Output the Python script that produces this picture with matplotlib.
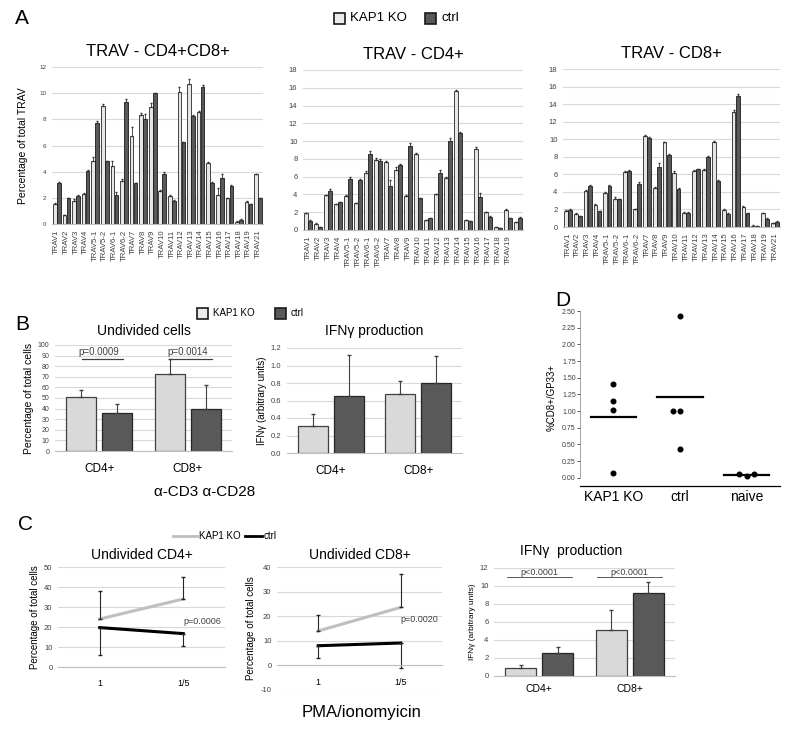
import numpy as np
import matplotlib
matplotlib.use("Agg")
import matplotlib.pyplot as plt
from matplotlib.patches import Rectangle
from matplotlib.lines import Line2D

plt.rcParams['font.family'] = ['Liberation Sans', 'DejaVu Sans']

W, H = 800, 732
KO_C = "#d9d9d9"
CT_C = "#595959"
GRID = "#d9d9d9"

# ---- panel A data ----
trav_a = ["TRAV1", "TRAV2", "TRAV3", "TRAV4", "TRAV5-1", "TRAV5-2", "TRAV6-1", "TRAV6-2",
          "TRAV7", "TRAV8", "TRAV9", "TRAV10", "TRAV11", "TRAV12", "TRAV13", "TRAV14",
          "TRAV15", "TRAV16", "TRAV17", "TRAV18", "TRAV19", "TRAV21"]
trav_cd4 = trav_a[:21] + [""]

dp_ko = [1.5, 0.65, 1.75, 2.3, 4.85, 9.05, 4.45, 3.3, 6.75, 8.3, 8.95, 2.5, 2.15, 10.1, 10.7, 8.55, 4.7, 2.25, 1.95, 0.15, 1.7, 3.8]
dp_ko_err = [0.1, 0.05, 0.15, 0.05, 0.3, 0.15, 0.4, 0.15, 0.65, 0.15, 0.3, 0.1, 0.1, 0.35, 0.4, 0.1, 0.05, 0.5, 0.05, 0.05, 0.05, 0.05]
dp_ct = [3.15, 1.95, 2.15, 4.05, 7.75, 4.8, 2.25, 9.3, 3.1, 8.05, 10.0, 3.85, 1.75, 6.25, 8.25, 10.45, 3.15, 3.55, 2.9, 0.3, 1.5, 1.95]
dp_ct_err = [0.05, 0.05, 0.05, 0.05, 0.15, 0.05, 0.2, 0.25, 0.05, 0.35, 0.05, 0.1, 0.05, 0.05, 0.1, 0.2, 0.05, 0.3, 0.05, 0.05, 0.05, 0.05]

cd4_ko = [1.9, 0.7, 3.9, 2.9, 3.8, 3.0, 6.4, 7.9, 7.7, 6.8, 3.8, 8.6, 1.1, 4.0, 5.9, 15.6, 1.1, 9.1, 2.0, 0.3, 2.3, 0.9]
cd4_ko_err = [0.05, 0.05, 0.05, 0.05, 0.1, 0.05, 0.2, 0.2, 0.05, 0.3, 0.1, 0.1, 0.05, 0.05, 0.05, 0.2, 0.05, 0.25, 0.05, 0.05, 0.05, 0.05]
cd4_ct = [1.0, 0.3, 4.4, 3.1, 5.7, 5.6, 8.5, 7.8, 5.0, 7.3, 9.5, 3.6, 1.3, 6.4, 10.0, 10.9, 1.0, 3.7, 1.5, 0.2, 1.3, 1.4]
cd4_ct_err = [0.1, 0.05, 0.2, 0.05, 0.3, 0.1, 0.4, 0.15, 0.6, 0.15, 0.25, 0.05, 0.05, 0.3, 0.4, 0.1, 0.05, 0.45, 0.05, 0.05, 0.05, 0.05]

cd8_ko = [1.85, 1.5, 4.15, 2.55, 3.85, 3.2, 6.25, 2.05, 10.4, 4.5, 9.65, 6.15, 1.65, 6.4, 6.55, 9.7, 1.95, 13.1, 2.3, 0.15, 1.6, 0.45]
cd8_ko_err = [0.05, 0.05, 0.05, 0.05, 0.1, 0.25, 0.1, 0.05, 0.05, 0.05, 0.05, 0.25, 0.05, 0.05, 0.1, 0.05, 0.05, 0.2, 0.05, 0.05, 0.05, 0.05]
cd8_ct = [1.95, 1.25, 4.7, 1.8, 4.7, 3.15, 6.4, 4.85, 10.15, 6.85, 8.25, 4.35, 1.65, 6.6, 8.0, 5.2, 1.5, 14.9, 1.6, 0.1, 0.95, 0.6]
cd8_ct_err = [0.05, 0.05, 0.05, 0.05, 0.1, 0.05, 0.1, 0.25, 0.05, 0.4, 0.05, 0.05, 0.05, 0.05, 0.05, 0.2, 0.05, 0.3, 0.05, 0.05, 0.05, 0.1]

# ---- panel B data ----
groups = ["CD4+", "CD8+"]
undiv_ko = [50.5, 73.0]
undiv_ko_err = [7.0, 14.0]
undiv_ct = [35.5, 40.0]
undiv_ct_err = [9.0, 22.0]
undiv_p = ["p=0.0009", "p=0.0014"]
ifn_b_ko = [0.31, 0.67]
ifn_b_ko_err = [0.14, 0.15]
ifn_b_ct = [0.65, 0.80]
ifn_b_ct_err = [0.47, 0.31]

# ---- panel C data ----
doses = ["1", "1/5"]
c4_ko = [24.0, 34.0]
c4_ko_err = [14.0, 11.0]
c4_ct = [19.7, 16.7]
c4_ct_err = [13.7, 6.0]
c8_ko = [14.0, 23.6]
c8_ko_err = [6.3, 13.6]
c8_ct = [8.0, 9.1]
c8_ct_err = [4.8, 10.0]
ifn_c_ko = [0.93, 5.15]
ifn_c_ko_err = [0.34, 2.15]
ifn_c_ct = [2.6, 9.27]
ifn_c_ct_err = [0.6, 1.2]
ifn_c_p = ["p<0.0001", "p<0.0001"]

# ---- panel D data ----
d_groups = ["KAP1 KO", "ctrl", "naive"]
d_ko = [1.40, 1.15, 1.01, 0.07]
d_ct = [2.43, 1.00, 1.00, 0.43]
d_nv = [0.05, 0.03, 0.05]
d_mean = [0.91, 1.21, 0.04]
# horizontal spread of overlapping dots
d_ko_dx = [0, 0, 0, 0]
d_ct_dx = [0, -0.11, 0, 0]
d_nv_dx = [-0.11, 0, 0.11]


fig = plt.figure(figsize=(8.0, 7.32), dpi=100)


def ax_px(l, t, r, b):
    return fig.add_axes([l / W, 1 - b / H, (r - l) / W, (b - t) / H])


def style(ax, ymin, ymax, step, fs=5.5, fmt="{:g}"):
    ax.set_ylim(ymin, ymax)
    ax.set_yticks(np.arange(ymin, ymax + step / 2, step))
    ax.set_yticklabels([fmt.format(v) for v in np.arange(ymin, ymax + step / 2, step)], fontsize=fs, color="#404040")
    ax.yaxis.grid(True, color=GRID, lw=0.8)
    ax.set_axisbelow(True)
    for s in ["top", "right", "left"]:
        ax.spines[s].set_visible(False)
    ax.spines["bottom"].set_color("#bfbfbf")
    ax.tick_params(length=0, pad=4)


def trav_panel(ax, labels, ko, ko_e, ct, ct_e, ymax, title):
    x = np.arange(len(labels))
    ax.bar(x - 0.21, ko, 0.38, color="#e6e6e6", edgecolor="#262626", lw=0.6)
    ax.bar(x + 0.21, ct, 0.38, color=CT_C, edgecolor="#1a1a1a", lw=0.6)
    ax.errorbar(x - 0.21, ko, yerr=[np.zeros(len(ko)), ko_e], fmt="none", ecolor="#333333", elinewidth=0.6, capsize=1)
    ax.errorbar(x + 0.21, ct, yerr=[np.zeros(len(ct)), ct_e], fmt="none", ecolor="#333333", elinewidth=0.6, capsize=1)
    ax.set_xlim(-0.5, len(labels) - 0.5)
    style(ax, 0, ymax, 2, fs=5.5 if ymax > 12 else 4.5)
    ax.set_xticks(x)
    ax.set_xticklabels(labels, rotation=90, fontsize=5.6, color="#404040")
    ax.set_title(title, fontsize=12, pad=8)


a1 = ax_px(52, 67, 263, 224)
trav_panel(a1, trav_a, dp_ko, dp_ko_err, dp_ct, dp_ct_err, 12, "TRAV - CD4+CD8+")
a1.set_ylabel("Percentage of total TRAV", fontsize=7.5, labelpad=8)
a2 = ax_px(303, 70, 523, 230)
trav_panel(a2, trav_cd4, cd4_ko, cd4_ko_err, cd4_ct, cd4_ct_err, 18, "TRAV - CD4+")
a3 = ax_px(563, 69, 780, 227)
trav_panel(a3, trav_a, cd8_ko, cd8_ko_err, cd8_ct, cd8_ct_err, 18, "TRAV - CD8+")


def box_legend(items, y, fs):
    for xb, label, col in items:
        fig.patches.append(Rectangle((xb / W, 1 - (y + 6) / H), 11 / W, 11 / H, transform=fig.transFigure,
                                     facecolor=col, edgecolor="#1a1a1a", lw=1.2))
        fig.text((xb + 16) / W, 1 - y / H, label, fontsize=fs, va="center")


box_legend([(334, "KAP1 KO", "#ebebeb"), (425, "ctrl", CT_C)], 18, 9.5)


def group_bars(ax, ko, ko_e, ct, ct_e):
    x = np.arange(len(groups))
    ax.bar(x - 0.205, ko, 0.34, color=KO_C, edgecolor="#404040", lw=0.9)
    ax.bar(x + 0.205, ct, 0.34, color=CT_C, edgecolor="#262626", lw=0.9)
    ax.errorbar(x - 0.205, ko, yerr=[np.zeros(len(ko)), ko_e], fmt="none", ecolor="#404040", elinewidth=0.8, capsize=1.5)
    ax.errorbar(x + 0.205, ct, yerr=[np.zeros(len(ct)), ct_e], fmt="none", ecolor="#404040", elinewidth=0.8, capsize=1.5)
    ax.set_xlim(-0.5, 1.5)
    ax.set_xticks(x)
    ax.set_xticklabels(groups, fontsize=8.5)
    ax.tick_params(axis="x", pad=9)


# ---- B ----
b1 = ax_px(55, 345, 232, 451)
style(b1, 0, 100, 10, fs=5)
group_bars(b1, undiv_ko, undiv_ko_err, undiv_ct, undiv_ct_err)
b1.set_title("Undivided cells", fontsize=10, pad=7)
b1.set_ylabel("Percentage of total cells", fontsize=7.5, labelpad=3)
for i, p in enumerate(undiv_p):
    b1.plot([i - 0.2, i + 0.27], [87, 87], color="#404040", lw=0.9)
    b1.text(i, 93, p, ha="center", va="center", fontsize=7, color="#404040")

b2 = ax_px(287, 348, 462, 453)
style(b2, 0, 1.2, 0.2, fs=5.5, fmt="{:.1f}")
group_bars(b2, ifn_b_ko, ifn_b_ko_err, ifn_b_ct, ifn_b_ct_err)
b2.set_title("IFNγ production", fontsize=10, pad=9)
b2.set_ylabel("IFNγ (arbitrary units)", fontsize=7, labelpad=3)

box_legend([(197, "KAP1 KO", "#ebebeb"), (275, "ctrl", CT_C)], 313, 7)
fig.text(205 / W, 1 - 492 / H, "α-CD3 α-CD28", fontsize=11, ha="center", va="center")

# ---- D ----
d = ax_px(580, 311, 780, 483)
d.set_xlim(-0.5, 2.5)
d.set_ylim(-0.08, 2.5)
yt = np.arange(0, 2.51, 0.25)
d.set_yticks(yt)
d.set_yticklabels(["{:.2f}".format(v) for v in yt], fontsize=5, color="#404040")
d.tick_params(axis="y", length=2, width=0.6, pad=1, color="#404040")
d.set_xticks(range(3))
d.set_xticklabels(d_groups, fontsize=7)
d.tick_params(axis="x", length=0, pad=3)
for s in ["top", "right"]:
    d.spines[s].set_visible(False)
d.spines["left"].set_bounds(0, 2.5)
d.spines["left"].set_linewidth(0.5)
d.spines["left"].set_color("#808080")
d.spines["bottom"].set_linewidth(0.9)
d.spines["bottom"].set_position(("outward", 2))
for i, (vals, dx) in enumerate([(d_ko, d_ko_dx), (d_ct, d_ct_dx), (d_nv, d_nv_dx)]):
    d.scatter(i + np.array(dx), vals, s=11, color="black", zorder=3)
    d.plot([i - 0.34, i + 0.34], [d_mean[i], d_mean[i]], color="black", lw=1.6)
d.set_ylabel("%CD8+/GP33+", fontsize=7, labelpad=4)

# ---- C ----
def line_panel(ax, ko, ko_e, ct, ct_e, ymin, ymax, title, p, py):
    style(ax, ymin, ymax, 10, fs=5.5)
    x = np.arange(len(doses))
    ax.plot(x, ko, color="#bfbfbf", lw=2.2)
    ax.plot(x, ct, color="black", lw=2.2)
    ax.errorbar(x, ko, yerr=[np.zeros(2), ko_e], fmt="none", ecolor="#262626", elinewidth=0.8, capsize=1.5)
    ax.errorbar(x, ct, yerr=[ct_e, np.zeros(2)], fmt="none", ecolor="#262626", elinewidth=0.8, capsize=1.5)
    ax.set_xlim(-0.5, 1.5)
    ax.spines["bottom"].set_position(("data", 0))
    ax.set_xticks(x)
    ax.set_xticklabels(doses, fontsize=6.5)
    ax.tick_params(axis="x", pad=9)
    ax.set_title(title, fontsize=10, pad=6)
    ax.text(1.0, py, p, fontsize=6.5, color="#404040", va="center")
    ax.set_ylabel("Percentage of total cells", fontsize=7, labelpad=3)


c1 = ax_px(58, 567, 225, 667)
line_panel(c1, c4_ko, c4_ko_err, c4_ct, c4_ct_err, 0, 50, "Undivided CD4+", "p=0.0006", 23)
c2 = ax_px(277, 567, 442, 690)
line_panel(c2, c8_ko, c8_ko_err, c8_ct, c8_ct_err, -10, 40, "Undivided CD8+", "p=0.0020", 18.5)

fig.add_artist(Line2D([173 / W, 197 / W], [1 - 536 / H] * 2, color="#bfbfbf", lw=2))
fig.text(199 / W, 1 - 536 / H, "KAP1 KO", fontsize=7, va="center")
fig.add_artist(Line2D([245 / W, 262 / W], [1 - 536 / H] * 2, color="black", lw=2))
fig.text(264 / W, 1 - 536 / H, "ctrl", fontsize=7, va="center")
fig.text(362 / W, 1 - 712 / H, "PMA/ionomyicin", fontsize=12, ha="center", va="center")

c3 = ax_px(494, 568, 675, 676)
style(c3, 0, 12, 2, fs=5.5)
group_bars(c3, ifn_c_ko, ifn_c_ko_err, ifn_c_ct, ifn_c_ct_err)
c3.tick_params(axis="x", pad=6)
c3.set_xticklabels(groups, fontsize=7.5)
c3.set_ylabel("IFNγ (arbitrary units)", fontsize=6, labelpad=3)
for i, p in enumerate(ifn_c_p):
    c3.text(i, 11.05, p, ha="center", va="bottom", fontsize=6.5, color="#404040")
    c3.plot([i - 0.36, i + 0.36], [10.95, 10.95], color="#404040", lw=0.6)
fig.text(520 / W, 1 - 551 / H, "IFNγ  production", fontsize=10, va="center")

# panel letters
for lab, x, y in [("A", 15, 18), ("B", 15, 325), ("C", 18, 525), ("D", 555, 300)]:
    fig.text(x / W, 1 - y / H, lab, fontsize=15, va="center")

fig.savefig("out.png", dpi=100)
